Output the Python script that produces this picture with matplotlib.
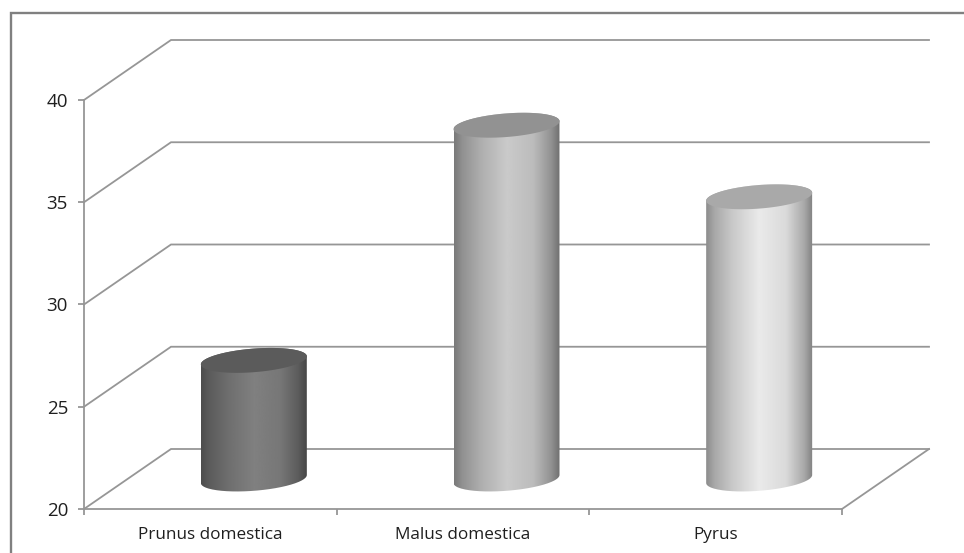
import numpy as np
import matplotlib
matplotlib.use("Agg")
import matplotlib.pyplot as plt
from matplotlib.lines import Line2D
from matplotlib.patches import PathPatch, Polygon
from matplotlib.path import Path

# ---------- DATA ----------
species = ["Prunus domestica", "Malus domestica", "Pyrus"]
values = [25.8, 37.3, 33.8]
y_ticks = [20, 25, 30, 35, 40]

# ---------- STYLE ----------
side_peak = [0x80, 0xca, 0xea]
top_gray = ["#5b5b5b", "#929292", "#a9a9a9"]
grid_color = "#969696"
frame_color = "#808080"
text_color = "#1f1f1f"

W, H = 964, 553
LEFT, RIGHT, BOTTOM, TOP = 84, 842, 509, 100   # front plane, pixels
DEPTH_X, DEPTH_Y = 87, 60                      # oblique offset to the back wall, pixels
BAR_W, ELL_B, ELL_TILT = 106, 11.8, 4          # cylinder shape, pixels

fig = plt.figure(figsize=(W / 100, H / 100), dpi=100)
ax = fig.add_axes([LEFT / W, (H - BOTTOM) / H, (RIGHT - LEFT) / W, (BOTTOM - TOP) / H])
ax.set_xlim(0, len(species))
ax.set_ylim(y_ticks[0], y_ticks[-1])
ax.patch.set_visible(False)

# pixels to data units
ux = len(species) / (RIGHT - LEFT)
uy = (y_ticks[-1] - y_ticks[0]) / (BOTTOM - TOP)
dx, dy = DEPTH_X * ux, DEPTH_Y * uy

# walls and floor
for v in y_ticks:
    ax.plot([0, dx, len(species) + dx], [v, v + dy, v + dy], color=grid_color,
            lw=1.3, clip_on=False, zorder=1, solid_joinstyle="miter")
ax.plot([len(species), len(species) + dx], [y_ticks[0], y_ticks[0] + dy], color=grid_color,
        lw=1.3, clip_on=False, zorder=1)

# axes
for s in ["top", "right"]:
    ax.spines[s].set_visible(False)
for s in ["left", "bottom"]:
    ax.spines[s].set_color(grid_color)
    ax.spines[s].set_linewidth(1.3)
ax.set_yticks(y_ticks)
ax.set_xticks(range(len(species) + 1))
ax.set_xticklabels([])
ax.set_xticks(np.arange(len(species)) + 0.5, minor=True)
ax.set_xticklabels(species, minor=True, fontsize=12.3, family="Open Sans", color=text_color)
ax.tick_params(axis="x", which="major", length=4.5, width=1.3, color=grid_color)
ax.tick_params(axis="x", which="minor", length=0, pad=13)
ax.tick_params(axis="y", length=4.5, width=1.3, color=grid_color, pad=7,
               labelsize=13.5, labelcolor=text_color)
for lab in ax.get_yticklabels():
    lab.set_family("Open Sans")


def ellipse(cx, cy, t):
    x = cx + BAR_W / 2 * ux * np.cos(t)
    y = cy + (ELL_TILT * np.cos(t) + ELL_B * np.sin(t)) * uy
    return x, y


# cylinders stand mid-depth: shaded side first, then the top cap
stops = [0, 0.08, 0.25, 0.5, 0.75, 0.92, 1]
shade = [0.6, 0.72, 0.86, 1, 0.93, 0.72, 0.55]
for i, val in enumerate(values):
    cx = i + 0.5 + dx / 2
    base = y_ticks[0] + dy / 2
    top = val + dy / 2
    t_up = np.linspace(0, np.pi, 80)
    t_low = np.linspace(np.pi, 2 * np.pi, 80)
    xb, yb = ellipse(cx, base, t_low)
    xt, yt = ellipse(cx, top, t_up)
    side = np.column_stack([np.r_[xb, xt], np.r_[yb, yt]])
    clip = PathPatch(Path(np.vstack([side, side[:1]])), transform=ax.transData)

    fr = np.linspace(0, 1, 256)
    grad = np.interp(fr, stops, shade) * side_peak[i] / 255
    half = BAR_W / 2 * ux
    im = ax.imshow(grad[np.newaxis, :], cmap="gray", vmin=0, vmax=1, aspect="auto",
                   extent=[cx - half, cx + half, y_ticks[0], y_ticks[-1]],
                   zorder=3, interpolation="bilinear")
    im.set_clip_path(clip)

    t = np.linspace(0, 2 * np.pi, 160)
    xc, yc = ellipse(cx, top, t)
    ax.add_patch(Polygon(np.column_stack([xc, yc]), closed=True, facecolor=top_gray[i],
                         edgecolor="none", zorder=4))

ax.set_xlim(0, len(species))
ax.set_ylim(y_ticks[0], y_ticks[-1])

# outer chart frame, open towards the right and bottom
fig.add_artist(Line2D([11 / W, 11 / W, 1], [0, 1 - 13 / H, 1 - 13 / H], color=frame_color, lw=1.7,
                      solid_joinstyle="miter"))

fig.savefig("out.png", dpi=100, facecolor="white")
